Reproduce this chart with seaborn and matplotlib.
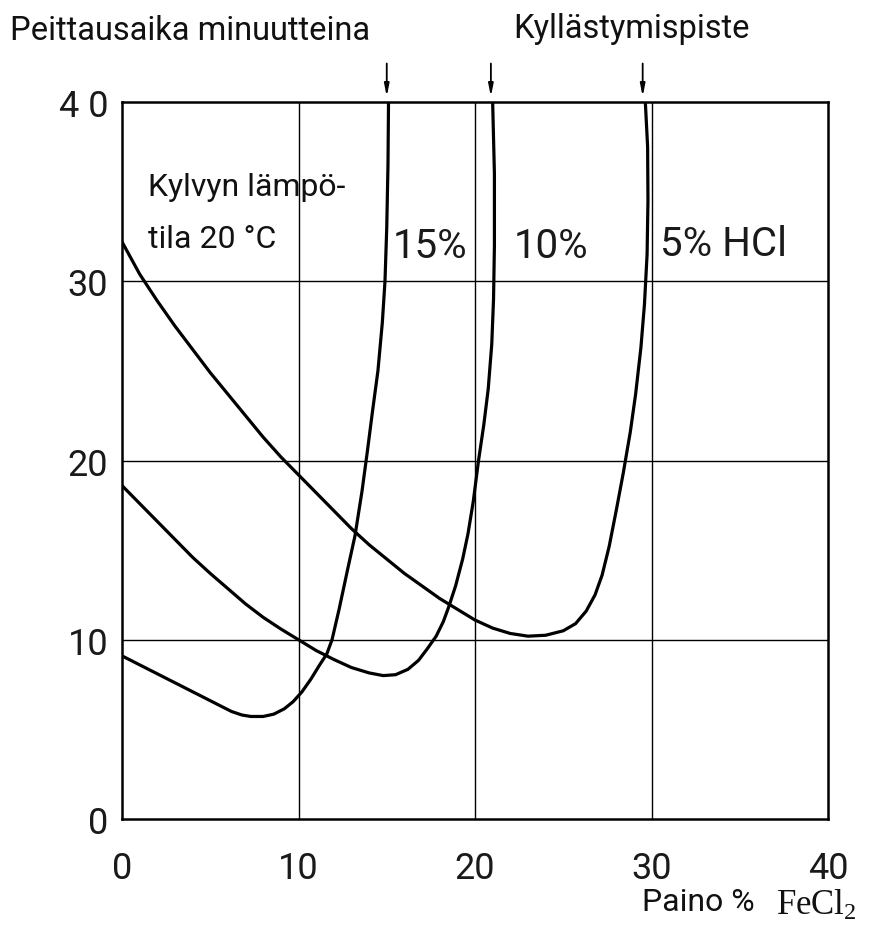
import matplotlib
matplotlib.use("Agg")
import matplotlib.pyplot as plt
import seaborn as sns
import pandas as pd

# ---- data ----
hcl15_x = [0.0, 2.0, 4.0, 5.5, 6.2, 6.8, 7.3, 8.0, 8.6, 9.2, 9.7, 10.2, 10.7, 11.2, 11.6, 11.9, 12.3,
           12.8, 13.2, 13.6, 13.9, 14.2, 14.5, 14.75, 14.9, 15.0, 15.07, 15.1]
hcl15_y = [9.1, 8.1, 7.1, 6.35, 6.0, 5.8, 5.72, 5.72, 5.85, 6.15, 6.55, 7.1, 7.8, 8.6, 9.2, 10.0, 11.7,
           14.0, 15.8, 18.3, 20.5, 22.8, 25.0, 27.7, 30.0, 33.0, 36.5, 40.0]

hcl10_x = [0.0, 1.0, 2.0, 3.0, 4.0, 5.0, 6.0, 7.0, 8.0, 9.0, 10.0, 11.0, 12.0, 13.0, 14.0, 14.8, 15.5,
           16.2, 16.8, 17.3, 17.8, 18.2, 18.5, 18.9, 19.3, 19.6, 19.9, 20.2, 20.5, 20.75, 20.95, 21.05,
           21.1, 21.1, 21.0]
hcl10_y = [18.6, 17.6, 16.6, 15.6, 14.6, 13.7, 12.85, 12.0, 11.25, 10.6, 10.0, 9.4, 8.9, 8.45, 8.15, 8.0, 8.05,
           8.35, 8.85, 9.5, 10.2, 11.0, 11.8, 13.0, 14.5, 15.9, 17.7, 20.0, 22.0, 24.0, 26.5, 29.0,
           32.0, 36.0, 40.0]

hcl5_x = [0.0, 1.0, 2.0, 3.0, 4.0, 5.0, 6.0, 7.0, 8.0, 9.0, 10.0, 11.0, 12.0, 13.0, 14.0, 15.0, 16.0,
          17.0, 18.0, 19.0, 20.0, 21.0, 22.0, 23.0, 24.0, 25.0, 25.7, 26.3, 26.8, 27.2, 27.6, 28.0, 28.4,
          28.8, 29.1, 29.4, 29.6, 29.75, 29.8, 29.78, 29.65]
hcl5_y = [32.2, 30.4, 28.9, 27.5, 26.2, 24.9, 23.7, 22.5, 21.3, 20.2, 19.2, 18.2, 17.2, 16.2, 15.3, 14.5, 13.7,
          13.0, 12.3, 11.7, 11.1, 10.65, 10.35, 10.2, 10.25, 10.5, 10.9, 11.6, 12.5, 13.6, 15.2, 17.2, 19.3,
          21.6, 23.7, 26.3, 28.7, 31.5, 34.5, 37.5, 40.0]

saturation_x = [15.0, 20.9, 29.5]
curve_labels = ["15%", "10%", "5% HCl"]
ticks = [0, 10, 20, 30, 40]
xtick_labels = ["0", "10", "20", "30", "40"]
ytick_labels = ["0", "10", "20", "30", "4 0"]

frames = []
for name, xs, ys in [("15", hcl15_x, hcl15_y), ("10", hcl10_x, hcl10_y), ("5", hcl5_x, hcl5_y)]:
    frames.append(pd.DataFrame({"x": xs, "y": ys, "c": name}))
df = pd.concat(frames, ignore_index=True)

sns.set_theme(style="white")
FONT = ["Roboto", "DejaVu Sans"]
plt.rcParams["font.family"] = FONT
plt.rcParams["mathtext.fontset"] = "custom"
plt.rcParams["mathtext.rm"] = "Liberation Serif"
plt.rcParams["mathtext.it"] = "Liberation Serif:italic"

W, H = 869, 929
fig = plt.figure(figsize=(W / 100, H / 100), dpi=100)
ax = fig.add_axes([122 / W, 1 - 820 / H, (828 - 122) / W, (820 - 103) / H])

for name in ["15", "10", "5"]:
    sub = df[df["c"] == name]
    sns.lineplot(data=sub, x="x", y="y", sort=False, estimator=None, color="black",
                 linewidth=2.3, ax=ax, legend=False)

ax.set_xlim(0, 40)
ax.set_ylim(0, 40)
ax.set_xticks(ticks)
ax.set_yticks(ticks)
ax.set_xticklabels(xtick_labels, fontsize=26, color="#1a1a1a")
ax.set_yticklabels(ytick_labels, fontsize=26, color="#1a1a1a")
ax.tick_params(axis="x", length=0, pad=22)
ax.tick_params(axis="y", length=0, pad=10)
ax.set_xlabel("")
ax.set_ylabel("")
for v in [10, 20, 30]:
    ax.axvline(v, color="black", linewidth=1.0, zorder=1)
    ax.axhline(v, color="black", linewidth=1.0, zorder=1)
for s in ax.spines.values():
    s.set_color("black")
    s.set_linewidth(1.8)

# saturation arrows
for sx in saturation_x:
    ax.annotate("", xy=(sx, 40.15), xytext=(sx, 42.3), annotation_clip=False,
                arrowprops=dict(arrowstyle="-|>,head_length=0.6,head_width=0.12",
                                color="black", linewidth=1.3))

# curve labels
ax.text(15.35, 32.0, curve_labels[0], fontsize=29, ha="left", va="center", color="#1a1a1a")
ax.text(22.2, 32.0, curve_labels[1], fontsize=29, ha="left", va="center", color="#1a1a1a")
ax.text(30.5, 32.1, curve_labels[2], fontsize=29, ha="left", va="center", color="#1a1a1a")

ax.text(1.45, 35.3, "Kylvyn lämpö-", fontsize=23, ha="left", va="center", color="#111111")
ax.text(1.45, 32.4, "tila 20 °C", fontsize=23, ha="left", va="center", color="#111111")

fig.text(10 / W, 1 - 31 / H, "Peittausaika minuutteina", fontsize=23.5, ha="left", va="center", color="#111111")
fig.text(632 / W, 1 - 29 / H, "Kyllästymispiste", fontsize=23.5, ha="center", va="center", color="#111111")
fig.text(642 / W, 1 - 903 / H, "Paino %", fontsize=23, ha="left", va="center", color="#111111")
fig.text(776 / W, 1 - 905 / H, r"$\mathrm{FeCl}_2$", fontsize=25, ha="left", va="center", color="#111111")

fig.savefig("out.png", dpi=100, facecolor="white")
